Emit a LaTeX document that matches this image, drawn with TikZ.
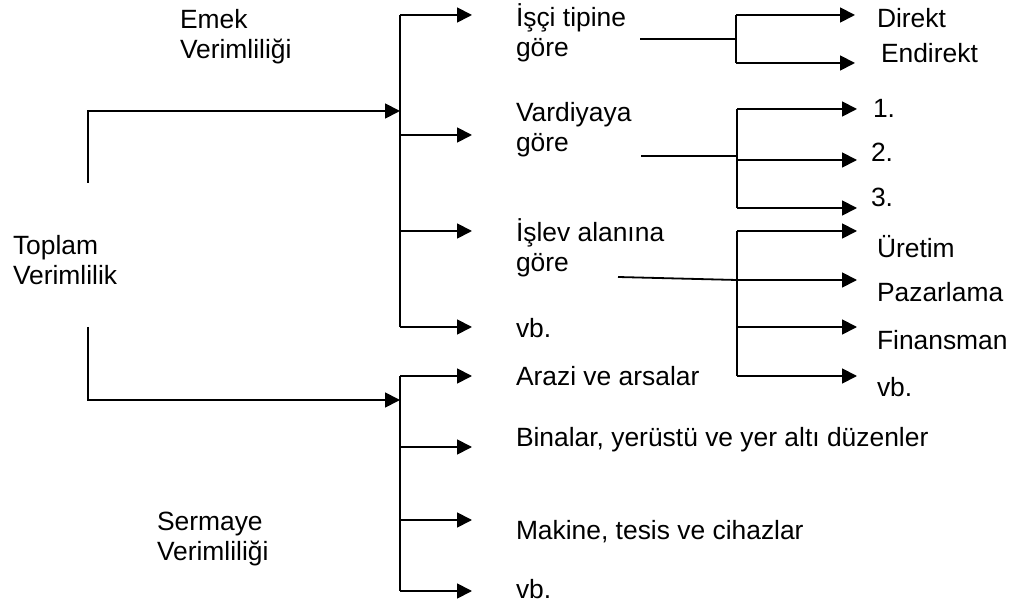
\documentclass[tikz,border=0pt]{standalone}
\usepackage{fontspec}
\setmainfont{Liberation Sans}
\usetikzlibrary{arrows.meta}
% two-line label with equal struts so both lines keep a fixed spacing
\newcommand{\twoline}[2]{\strut#1\\\strut#2}

\begin{document}
\begin{tikzpicture}[x=0.5pt,y=-0.5pt,
  lbl/.style={anchor=west, inner sep=0pt, outer sep=0pt, align=left,
              font=\fontsize{13.2}{15}\selectfont},
  wire/.style={line width=0.9pt},
  arr/.style={wire, -{Triangle[length=7.5pt,width=7.5pt]}}]
\useasboundingbox (0,0) rectangle (1016,608);

% labels
\node[lbl] (toplam)  at (13,264)  {\twoline{Toplam}{Verimlilik}};
\node[lbl] (emek)    at (180,38)  {\twoline{Emek}{Verimliliği}};
\node[lbl] (sermaye) at (157,539) {\twoline{Sermaye}{Verimliliği}};

\node[lbl] (isci)    at (516,35)  {\twoline{İşçi tipine}{göre}};
\node[lbl] (vardiya) at (516,131) {\twoline{Vardiyaya}{göre}};
\node[lbl] (islev)   at (516,250) {\twoline{İşlev alanına}{göre}};
\node[lbl] (evb)     at (516,332) {\strut vb.};

\node[lbl] (arazi)   at (516,380) {\strut Arazi ve arsalar};
\node[lbl] (binalar) at (516,441) {\strut Binalar, yerüstü ve yer altı düzenler};
\node[lbl] (makine)  at (516,533) {\strut Makine, tesis ve cihazlar};
\node[lbl] (svb)     at (516,592) {\strut vb.};

\node[lbl] (direkt)   at (877,22)  {\strut Direkt};
\node[lbl] (endirekt) at (881,57)  {\strut Endirekt};
\node[lbl] (v1)       at (873,112) {\strut 1.};
\node[lbl] (v2)       at (871,156) {\strut 2.};
\node[lbl] (v3)       at (871,201) {\strut 3.};
\node[lbl] (uretim)   at (877,251) {\strut Üretim};
\node[lbl] (pazar)    at (877,296) {\strut Pazarlama};
\node[lbl] (finans)   at (877,344) {\strut Finansman};
\node[lbl] (ivb)      at (877,391) {\strut vb.};

% trunk from Toplam Verimlilik to the two groups
\coordinate (tTop) at (88,183);
\coordinate (tBot) at (88,327);
\coordinate (eIn)  at (400,111);
\coordinate (sIn)  at (400,400);
\draw[arr] (tTop) |- (eIn);
\draw[arr] (tBot) |- (sIn);

% Emek Verimliliği bracket
\coordinate (e1) at (400,15);
\coordinate (e2) at (400,135);
\coordinate (e3) at (400,231);
\coordinate (e4) at (400,327);
\draw[wire] (e1) -- (e4);
\foreach \p in {e1,e2,e3,e4} \draw[arr] (\p) -- ++(72,0);

% Sermaye Verimliliği bracket
\coordinate (s1) at (400,376);
\coordinate (s2) at (400,447);
\coordinate (s3) at (400,520);
\coordinate (s4) at (400,591);
\draw[wire] (s1) -- (s4);
\foreach \p in {s1,s2,s3,s4} \draw[arr] (\p) -- ++(72,0);

% by worker type
\coordinate (iStem) at (640,39);
\coordinate (iJoin) at (736,39);
\coordinate (i1) at (736,15);
\coordinate (i2) at (736,63);
\draw[wire] (iStem) -- (iJoin);
\draw[wire] (i1) -- (i2);
\draw[arr] (i1) -- ++(119,0);
\draw[arr] (i2) -- ++(119,0);

% by shift
\coordinate (vStem) at (641,156);
\coordinate (vJoin) at (737,156);
\coordinate (vs1) at (737,109);
\coordinate (vs2) at (737,160);
\coordinate (vs3) at (737,208);
\draw[wire] (vStem) -- (vJoin);
\draw[wire] (vs1) -- (vs3);
\foreach \p in {vs1,vs2,vs3} \draw[arr] (\p) -- ++(120,0);

% by functional area
\coordinate (fStem) at (618,277);
\coordinate (f1) at (737,231);
\coordinate (f2) at (737,280);
\coordinate (f3) at (737,327);
\coordinate (f4) at (737,376);
\draw[wire] (fStem) -- (f2);
\draw[wire] (f1) -- (f4);
\foreach \p in {f1,f2,f3,f4} \draw[arr] (\p) -- ++(120,0);
\end{tikzpicture}
\end{document}
